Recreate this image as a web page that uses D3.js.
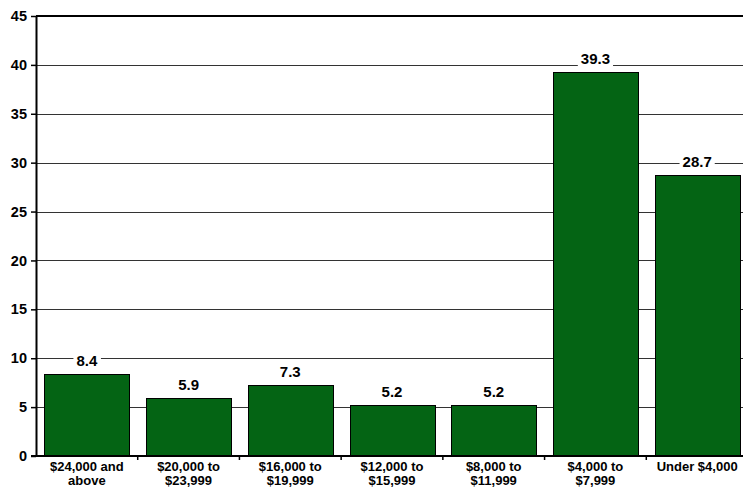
<!DOCTYPE html>
<html>
<head>
<meta charset="utf-8">
<script src="https://cdn.jsdelivr.net/npm/d3@7"></script>
<style>
  html, body { margin: 0; padding: 0; background: #fff; }
  svg { display: block; font-family: "Liberation Sans", Arial, sans-serif; font-weight: bold; }
</style>
</head>
<body>
<svg id="chart" width="743" height="489"></svg>
<script>
// Income brackets (two-line labels) and their percentages
const categories = [
  ["$24,000 and", "above"],
  ["$20,000 to", "$23,999"],
  ["$16,000 to", "$19,999"],
  ["$12,000 to", "$15,999"],
  ["$8,000 to", "$11,999"],
  ["$4,000 to", "$7,999"],
  ["Under $4,000"]
];
const values = [8.4, 5.9, 7.3, 5.2, 5.2, 39.3, 28.7];
const yTicks = [0, 5, 10, 15, 20, 25, 30, 35, 40, 45];

const svg = d3.select("#chart");
const margin = { left: 36, top: 16, right: -5, bottom: 33 };
const W = 743, H = 489;
const x0 = margin.left, x1 = W - margin.right;
const y0 = H - margin.bottom, y1 = margin.top;

const keys = categories.map(c => c.join(" "));
const x = d3.scaleBand().domain(keys).range([x0, x1]).paddingInner(0.165).paddingOuter(0.0825);
const y = d3.scaleLinear().domain([0, 45]).range([y0, y1]);

// horizontal gridlines
svg.append("g").selectAll("line").data(yTicks.filter(t => t > 0 && t < 45)).join("line")
  .attr("x1", x0).attr("x2", W)
  .attr("y1", d => Math.round(y(d)) + 0.5).attr("y2", d => Math.round(y(d)) + 0.5)
  .attr("stroke", "#333").attr("stroke-width", 1);

// top border
svg.append("line").attr("x1", x0).attr("x2", W).attr("y1", y1).attr("y2", y1)
  .attr("stroke", "#000").attr("stroke-width", 2);

// bars
svg.append("g").selectAll("rect").data(values).join("rect")
  .attr("x", (d, i) => Math.round(x(keys[i])) + 0.5)
  .attr("width", Math.round(x.bandwidth()))
  .attr("y", d => Math.round(y(d)) + 0.5)
  .attr("height", d => Math.round(y0) - Math.round(y(d)))
  .attr("fill", "#046414").attr("stroke", "#000").attr("stroke-width", 1);

// value labels on a white background sized to the text
const lab = svg.append("g").selectAll("g").data(values).join("g")
  .attr("transform", (d, i) => `translate(${x(keys[i]) + x.bandwidth() / 2},${y(d) - 8})`);
const bg = lab.append("rect").attr("fill", "#fff");
const txt = lab.append("text").attr("text-anchor", "middle").attr("font-size", 15).attr("fill", "#000")
  .text(d => d.toFixed(1));
bg.each(function (d, i) {
  const b = txt.nodes()[i].getBBox();
  d3.select(this).attr("x", b.x - 3).attr("y", -13).attr("width", b.width + 6).attr("height", 16);
});

// y axis
const yAxis = d3.axisLeft(y).tickValues(yTicks).tickSize(5).tickSizeOuter(0).tickPadding(4);
const gy = svg.append("g").attr("transform", `translate(${x0},0)`).call(yAxis);
gy.select(".domain").attr("stroke", "#000").attr("stroke-width", 2);
gy.selectAll(".tick line").attr("stroke", "#000").attr("stroke-width", 1.5);
gy.selectAll(".tick text").attr("font-size", 14.5).attr("font-weight", "bold")
  .attr("font-family", "Liberation Sans, Arial, sans-serif").attr("fill", "#000");

// x axis baseline and ticks at band boundaries
svg.append("line").attr("x1", x0 - 5).attr("x2", W).attr("y1", y0).attr("y2", y0)
  .attr("stroke", "#000").attr("stroke-width", 2);
const step = x.step();
const bounds = d3.range(1, keys.length).map(i => x0 + i * step);
svg.append("g").selectAll("line").data(bounds).join("line")
  .attr("x1", d => d).attr("x2", d => d).attr("y1", y0).attr("y2", y0 + 4)
  .attr("stroke", "#000").attr("stroke-width", 1.5);

// category labels
const cl = svg.append("g").selectAll("text").data(categories).join("text")
  .attr("text-anchor", "middle").attr("font-size", 13).attr("fill", "#000")
  .attr("transform", (d, i) => `translate(${x(keys[i]) + x.bandwidth() / 2},${y0 + 15})`);
cl.selectAll("tspan").data(d => d).join("tspan")
  .attr("x", 0).attr("dy", (d, i) => i === 0 ? 0 : 14).text(d => d);
</script>
</body>
</html>
